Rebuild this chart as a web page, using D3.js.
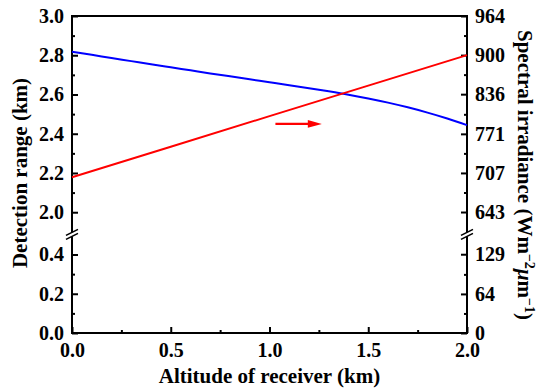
<!DOCTYPE html>
<html>
<head>
<meta charset="utf-8">
<script src="https://cdn.jsdelivr.net/npm/d3@7"></script>
<style>
  html, body { margin: 0; padding: 0; background: #fff; }
  svg { display: block; }
  text { font-family: "Liberation Serif", "Times New Roman", serif; font-weight: bold; fill: #000; }
</style>
</head>
<body>
<svg id="chart" width="536" height="390"></svg>
<script>
// ---- data ----
const altitude = [0.0, 0.1, 0.2, 0.3, 0.4, 0.5, 0.6, 0.7, 0.8, 0.9, 1.0,
                  1.1, 1.2, 1.3, 1.4, 1.5, 1.6, 1.7, 1.8, 1.9, 2.0];
const detectionRange = [2.818, 2.802, 2.786, 2.770, 2.754, 2.7385, 2.723, 2.7075, 2.6925, 2.6775, 2.6625,
                        2.6475, 2.632, 2.616, 2.599, 2.580, 2.5585, 2.5345, 2.5075, 2.4775, 2.444];
const irradianceAltitude = [0.0, 0.5, 1.0, 1.5, 2.0];
const spectralIrradiance = [700, 750, 800, 850, 900];

const xTicks = [0.0, 0.5, 1.0, 1.5, 2.0];
const xMinorTicks = [0.25, 0.75, 1.25, 1.75];
const leftUpperTicks = [2.0, 2.2, 2.4, 2.6, 2.8, 3.0];
const leftUpperMinor = [2.1, 2.3, 2.5, 2.7, 2.9];
const leftLowerTicks = [0.0, 0.2, 0.4];
const leftLowerMinor = [0.1, 0.3];
const rightUpperTicks = [643, 707, 771, 836, 900, 964];
const rightLowerTicks = [0, 64, 129];
const rightUpperMinor = [675, 739, 803, 868, 932];
const rightLowerMinor = [32, 96];
const irrPerKm = 964 / 3.0; // right axis ↔ left axis factor

// ---- layout ----
const W = 536, H = 390;
const m = { left: 72, right: 69, top: 16, bottom: 57 };
const x0 = m.left, x1 = W - m.right, yTop = m.top, yBot = H - m.bottom;

const svg = d3.select("#chart");

const x = d3.scaleLinear().domain([0, 2]).range([x0, x1]);
// broken y axis: upper segment 2.0–3.0, lower 0–0.4 with same px/unit
const pxPerUnit = (yBot - yTop) / (3.0 - 2.0 + 0.4 + 0.2155);
const yUp = d3.scaleLinear().domain([2.0, 3.0]).range([yTop + pxPerUnit, yTop]);
const yLo = d3.scaleLinear().domain([0, 0.4]).range([yBot, yBot - 0.4 * pxPerUnit]);
const yRUp = d3.scaleLinear().domain([2.0 * irrPerKm, 3.0 * irrPerKm]).range(yUp.range());
const yRLo = d3.scaleLinear().domain([0, 0.4 * irrPerKm]).range(yLo.range());
const yBreak = (yUp(2.0) + yLo(0.4)) / 2 + 1;

const fs = 20, tfs = 21;

function styleAxis(g) {
  g.select(".domain").remove();
  g.selectAll(".tick line").attr("stroke", "#000").attr("stroke-width", 2);
  g.selectAll(".tick text").style("font-size", fs + "px");
}

// X axis
const gx = svg.append("g").attr("transform", `translate(0,${yBot})`)
  .call(d3.axisBottom(x).tickValues(xTicks).tickFormat(d3.format(".1f")).tickSizeInner(-6).tickSizeOuter(0).tickPadding(10));
styleAxis(gx);
const gxm = svg.append("g").attr("transform", `translate(0,${yBot})`)
  .call(d3.axisBottom(x).tickValues(xMinorTicks).tickFormat("").tickSizeInner(-3).tickSizeOuter(0));
styleAxis(gxm);

// Left axis
[[yUp, leftUpperTicks, leftUpperMinor], [yLo, leftLowerTicks, leftLowerMinor]].forEach(([sc, maj, mi]) => {
  const g = svg.append("g").attr("transform", `translate(${x0},0)`)
    .call(d3.axisLeft(sc).tickValues(maj).tickFormat(d3.format(".1f")).tickSizeInner(-6).tickSizeOuter(0).tickPadding(8));
  styleAxis(g);
  const gm = svg.append("g").attr("transform", `translate(${x0},0)`)
    .call(d3.axisLeft(sc).tickValues(mi).tickFormat("").tickSizeInner(-3).tickSizeOuter(0));
  styleAxis(gm);
});

// Right axis
[[yRUp, rightUpperTicks, rightUpperMinor], [yRLo, rightLowerTicks, rightLowerMinor]].forEach(([sc, maj, mi]) => {
  const g = svg.append("g").attr("transform", `translate(${x1},0)`)
    .call(d3.axisRight(sc).tickValues(maj).tickFormat(d3.format("d")).tickSizeInner(-6).tickSizeOuter(0).tickPadding(8));
  styleAxis(g);
  const gm = svg.append("g").attr("transform", `translate(${x1},0)`)
    .call(d3.axisRight(sc).tickValues(mi).tickFormat("").tickSizeInner(-3).tickSizeOuter(0));
  styleAxis(gm);
});

// Frame
const frame = svg.append("g").attr("stroke", "#000").attr("stroke-width", 2).attr("fill", "none");
frame.append("line").attr("x1", x0).attr("x2", x1).attr("y1", yTop).attr("y2", yTop);
frame.append("line").attr("x1", x0 - 1).attr("x2", x1 + 1).attr("y1", yBot).attr("y2", yBot);
[x0, x1].forEach(xx => {
  frame.append("line").attr("x1", xx).attr("x2", xx).attr("y1", yTop - 1).attr("y2", yBreak - 2);
  frame.append("line").attr("x1", xx).attr("x2", xx).attr("y1", yBreak + 2).attr("y2", yBot);
  // break marks
  [-2, 2].forEach(o => {
    frame.append("line")
      .attr("x1", xx - 6).attr("y1", yBreak + o + 3)
      .attr("x2", xx + 6).attr("y2", yBreak + o - 3)
      .attr("stroke-width", 1.6);
  });
});

// Lines
const blue = altitude.map((a, i) => [a, detectionRange[i]]);
svg.append("path").datum(blue)
  .attr("fill", "none").attr("stroke", "#0000ff").attr("stroke-width", 2)
  .attr("d", d3.line().x(d => x(d[0])).y(d => yUp(d[1])).curve(d3.curveMonotoneX));

const red = irradianceAltitude.map((a, i) => [a, spectralIrradiance[i]]);
svg.append("path").datum(red)
  .attr("fill", "none").attr("stroke", "#ff0000").attr("stroke-width", 2)
  .attr("d", d3.line().x(d => x(d[0])).y(d => yRUp(d[1])));

// Arrow indicating right axis
const arrowY = yUp(2.45);
const ax0 = x(1.03), ax1 = x(1.265);
svg.append("line").attr("x1", ax0).attr("x2", ax1 - 12).attr("y1", arrowY).attr("y2", arrowY)
  .attr("stroke", "#ff0000").attr("stroke-width", 2.2);
svg.append("path")
  .attr("d", `M${ax1},${arrowY} L${ax1 - 14},${arrowY - 3.8} L${ax1 - 14},${arrowY + 3.8} Z`)
  .attr("fill", "#ff0000");

// Titles
svg.append("text").attr("x", (x0 + x1) / 2).attr("y", 383).attr("text-anchor", "middle")
  .style("font-size", tfs + "px").text("Altitude of receiver (km)");

svg.append("text").attr("transform", `translate(27,173) rotate(-90)`)
  .attr("text-anchor", "middle").style("font-size", tfs + "px").text("Detection range (km)");

const rt = svg.append("text").attr("transform", `translate(518,175) rotate(90)`)
  .attr("text-anchor", "middle").style("font-size", tfs + "px");
rt.append("tspan").text("Spectral irradiance (Wm");
rt.append("tspan").attr("baseline-shift", "super").style("font-size", "14px").text("−2");
rt.append("tspan").style("font-style", "italic").text("μ");
rt.append("tspan").text("m");
rt.append("tspan").attr("baseline-shift", "super").style("font-size", "14px").text("−1");
rt.append("tspan").text(")");
</script>
</body>
</html>
